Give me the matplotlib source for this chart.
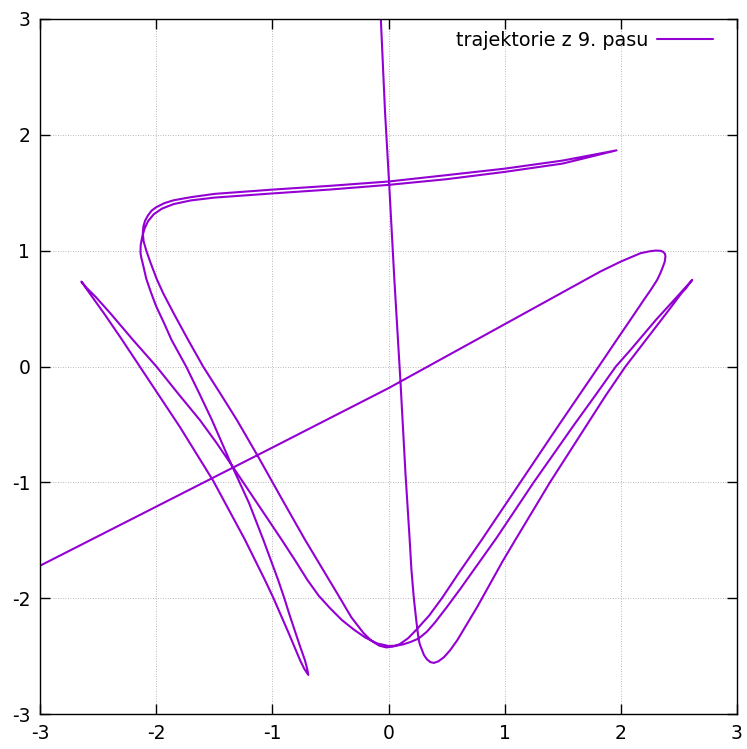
import matplotlib
matplotlib.use("Agg")
import matplotlib.pyplot as plt
import numpy as np

# trajectory, piece by piece, in drawing order
seg_line_x = [-3.00, -2.00, -1.00, 0.00, 1.00, 1.50, 1.824, 2.00, 2.169, 2.25, 2.30, 2.341, 2.365, 2.380,
              2.384, 2.378, 2.362, 2.340, 2.313, 2.26, 2.198]
seg_line_y = [-1.72, -1.21, -0.70, -0.187, 0.365, 0.64, 0.82, 0.906, 0.978, 0.995, 1.001, 0.999, 0.990, 0.972,
              0.950, 0.905, 0.860, 0.805, 0.748, 0.665, 0.575]

seg_down1_x = [2.087, 1.968, 1.81, 1.47, 1.135, 0.80, 0.60, 0.46, 0.35, 0.244, 0.17, 0.10, 0.04]
seg_down1_y = [0.41, 0.235, 0.0, -0.50, -1.00, -1.50, -1.79, -2.00, -2.15, -2.268, -2.345, -2.395, -2.418]

seg_up_left_x = [-0.02, -0.08, -0.15, -0.216, -0.32, -0.417, -0.56, -0.719, -0.92, -1.116, -1.305, -1.45,
                 -1.596, -1.725, -1.85, -1.94, -1.996, -2.05, -2.085, -2.108, -2.115, -2.11, -2.095, -2.07,
                 -2.04, -2.00, -1.93, -1.85, -1.70]
seg_up_left_y = [-2.425, -2.41, -2.365, -2.30, -2.165, -2.00, -1.76, -1.495, -1.14, -0.789, -0.462, -0.23,
                 0.00, 0.23, 0.46, 0.633, 0.757, 0.90, 1.00, 1.08, 1.15, 1.21, 1.26, 1.305,
                 1.345, 1.375, 1.41, 1.435, 1.462]

seg_top_out_x = [-1.50, -1.00, -0.50, 0.00, 0.50, 1.00, 1.50, 1.963]
seg_top_out_y = [1.49, 1.527, 1.56, 1.597, 1.652, 1.708, 1.778, 1.866]

seg_top_back_x = [1.50, 1.00, 0.50, 0.00, -0.50, -1.00, -1.50, -1.70, -1.85, -1.95, -2.02, -2.07, -2.10,
                  -2.12, -2.133, -2.135, -2.128, -2.118, -2.085, -2.045, -2.00, -1.93, -1.868, -1.742,
                  -1.63, -1.52, -1.351, -1.20, -1.078, -0.95, -0.897, -0.85, -0.80, -0.76, -0.72, -0.70, -0.69]
seg_top_back_y = [1.752, 1.68, 1.617, 1.568, 1.528, 1.494, 1.458, 1.434, 1.402, 1.363, 1.315, 1.255, 1.19,
                  1.12, 1.05, 0.98, 0.94, 0.90, 0.757, 0.64, 0.52, 0.37, 0.23, 0.00,
                  -0.23, -0.462, -0.85, -1.18, -1.495, -1.843, -2.00, -2.15, -2.30, -2.42, -2.534, -2.61, -2.663]

seg_to_tip_x = [-0.725, -0.762, -0.81, -0.86, -0.99, -1.064, -1.236, -1.51, -1.797, -2.141, -2.30, -2.45,
                -2.55, -2.62, -2.644]
seg_to_tip_y = [-2.61, -2.534, -2.42, -2.30, -2.00, -1.843, -1.495, -0.985, -0.52, 0.00, 0.24, 0.46,
                0.60, 0.70, 0.733]

seg_from_tip_x = [-2.60, -2.52, -2.395, -2.20, -1.998, -1.81, -1.624, -1.48, -1.351, -1.13, -0.920, -0.80,
                  -0.70, -0.60, -0.50, -0.40, -0.30, -0.20, -0.10, 0.00]
seg_from_tip_y = [0.68, 0.60, 0.46, 0.23, 0.00, -0.235, -0.462, -0.66, -0.85, -1.18, -1.495, -1.68,
                  -1.84, -1.98, -2.09, -2.19, -2.27, -2.34, -2.39, -2.413]

seg_right_up_x = [0.07, 0.13, 0.19, 0.259, 0.33, 0.40, 0.50, 0.618, 0.93, 1.25, 1.60, 1.78, 1.957, 2.083,
                  2.30, 2.50, 2.58, 2.615]
seg_right_up_y = [-2.41, -2.398, -2.378, -2.349, -2.29, -2.21, -2.08, -1.92, -1.48, -1.00, -0.50, -0.25,
                  0.00, 0.143, 0.40, 0.62, 0.71, 0.748]

seg_last_x = [2.56, 2.52, 2.40, 2.27, 2.15, 2.04, 1.87, 1.71, 1.39, 1.09, 0.98, 0.764, 0.592, 0.53, 0.477,
              0.43, 0.391, 0.36, 0.33, 0.305, 0.285, 0.27, 0.259, 0.24, 0.218, 0.197, 0.182, 0.146, 0.103,
              0.05, 0.006, -0.03, -0.066]
seg_last_y = [0.675, 0.63, 0.47, 0.30, 0.143, 0.00, -0.25, -0.50, -1.00, -1.50, -1.686, -2.075, -2.363,
              -2.45, -2.51, -2.545, -2.559, -2.552, -2.527, -2.49, -2.44, -2.40, -2.354, -2.20, -2.00,
              -1.75, -1.49, -0.922, -0.13, 0.757, 1.571, 2.2, 3.00]

ticks = [-3, -2, -1, 0, 1, 2, 3]
label = "trajektorie z 9. pasu"

xs = np.concatenate([seg_line_x, seg_down1_x, seg_up_left_x, seg_top_out_x, seg_top_back_x,
                     seg_to_tip_x, seg_from_tip_x, seg_right_up_x, seg_last_x])
ys = np.concatenate([seg_line_y, seg_down1_y, seg_up_left_y, seg_top_out_y, seg_top_back_y,
                     seg_to_tip_y, seg_from_tip_y, seg_right_up_y, seg_last_y])

fig = plt.figure(figsize=(7.47, 7.49), dpi=100)
ax = fig.add_axes([40 / 747, 1 - 714 / 749, 697 / 747, 695 / 749])

ax.plot(xs, ys, color="#9400d3", lw=1.5, label=label,
        solid_joinstyle="round", solid_capstyle="round")

ax.set_xlim(-3, 3)
ax.set_ylim(-3, 3)
ax.set_xticks(ticks)
ax.set_yticks(ticks)
ax.set_xticklabels([str(t) for t in ticks])
ax.set_yticklabels([str(t) for t in ticks])
ax.tick_params(direction="in", length=7, width=1, top=True, right=True, labelsize=13.5, pad=7)
ax.grid(True, color="#a0a0a0", lw=0.6, ls=(0, (1, 2)))
for s in ax.spines.values():
    s.set_linewidth(1.0)

ax.legend(loc="upper right", bbox_to_anchor=(0.976, 0.994), frameon=False, markerfirst=False,
          fontsize=13.8, handlelength=2.9, handletextpad=0.45, borderaxespad=0, borderpad=0.4)

fig.savefig("out.png", dpi=100)
